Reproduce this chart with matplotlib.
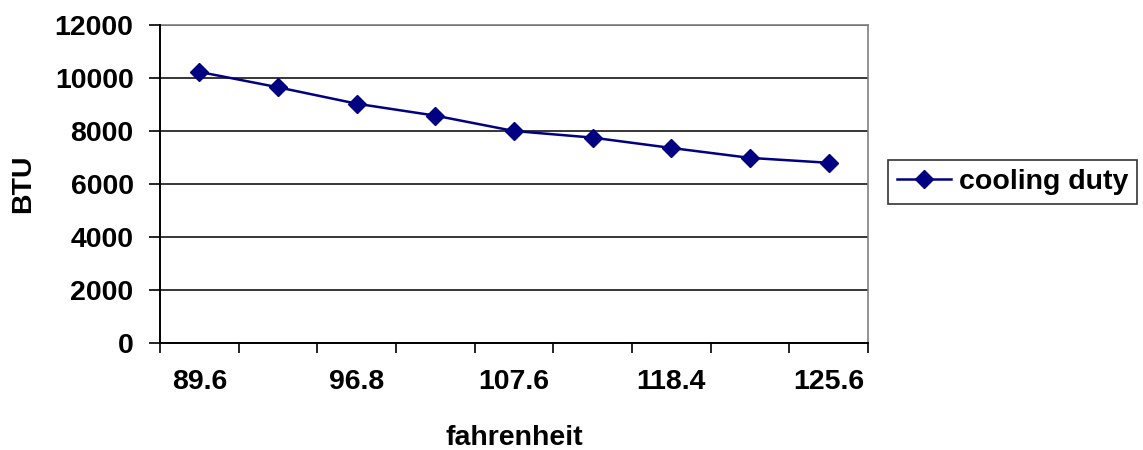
import matplotlib
matplotlib.use('Agg')
import matplotlib.pyplot as plt
from matplotlib.ticker import FixedLocator, NullFormatter, FixedFormatter

# Data
fahrenheit = ['89.6', '93.2', '96.8', '102.2', '107.6', '113', '118.4', '122', '125.6']
cooling_duty = [10230, 9650, 9030, 8580, 8000, 7750, 7360, 6985, 6800]
y_ticks = [0, 2000, 4000, 6000, 8000, 10000, 12000]

plt.rcParams['font.family'] = ['Liberation Sans', 'DejaVu Sans']
plt.rcParams['font.weight'] = 'bold'
FS = 20.5

W, H = 1143, 450
fig = plt.figure(figsize=(W / 100, H / 100), dpi=100)
left, right, top, bottom = 160, 868, 25, 343
ax = fig.add_axes([left / W, 1 - bottom / H, (right - left) / W, (bottom - top) / H])

x = list(range(len(fahrenheit)))
ax.plot(x, cooling_duty, color='#000080', linewidth=1.8, marker='D',
        markersize=9, label='cooling duty', zorder=3)

ax.set_xlim(-0.5, len(fahrenheit) - 0.5)
ax.set_ylim(0, 12000)

# category axis: tick marks between categories, labels on every other category
ax.xaxis.set_major_locator(FixedLocator([i - 0.5 for i in range(len(fahrenheit) + 1)]))
ax.xaxis.set_major_formatter(NullFormatter())
ax.xaxis.set_minor_locator(FixedLocator(x[::2]))
ax.xaxis.set_minor_formatter(FixedFormatter(fahrenheit[::2]))
ax.tick_params(axis='x', which='major', direction='out', length=7.5, width=1.2, color='black')
ax.tick_params(axis='x', which='minor', length=0, pad=19, labelsize=FS)

ax.set_yticks(y_ticks)
ax.set_yticklabels([str(v) for v in y_ticks])
ax.tick_params(axis='y', direction='out', length=8, width=1.2, pad=11, labelsize=FS)

ax.grid(axis='y', color='black', linewidth=1.1)
ax.set_axisbelow(True)
for s in ('top', 'right'):
    ax.spines[s].set_color('#808080')
    ax.spines[s].set_linewidth(1.2)
for s in ('left', 'bottom'):
    ax.spines[s].set_color('black')
    ax.spines[s].set_linewidth(1.4)
    ax.spines[s].set_zorder(4)

fig.text(514 / W, 1 - 438 / H, 'fahrenheit', ha='center', va='center',
         fontsize=FS, fontweight='bold')
fig.text(23 / W, 1 - 184 / H, 'BTU', ha='center', va='center', rotation=90,
         fontsize=FS, fontweight='bold')

leg = fig.legend(loc='center left', bbox_to_anchor=(888 / W, 1 - 182 / H),
                 bbox_transform=fig.transFigure, fontsize=FS, frameon=True,
                 fancybox=False, edgecolor='black', handlelength=1.9,
                 handletextpad=0.3, borderpad=0.3, borderaxespad=0)
leg.get_frame().set_linewidth(1.2)

fig.savefig('out.png', dpi=100)
